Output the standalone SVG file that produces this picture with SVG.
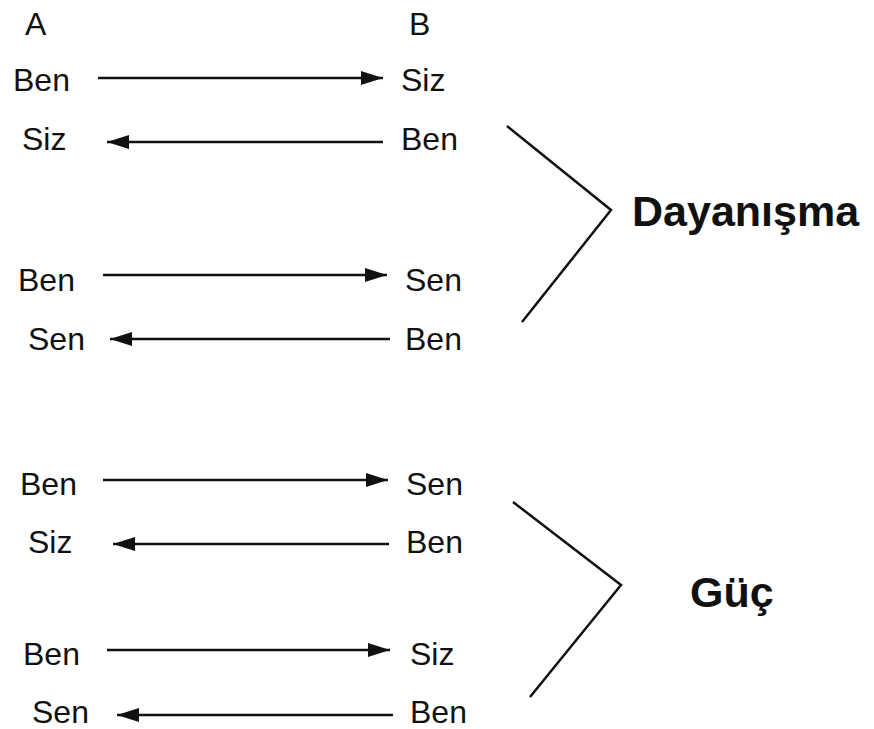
<svg xmlns="http://www.w3.org/2000/svg" width="874" height="729" viewBox="0 0 874 729">
<style>
.t{font-family:"Liberation Sans",Arial,sans-serif;font-size:32px;fill:#111}
.b{font-family:"Liberation Sans",Arial,sans-serif;font-size:43px;font-weight:bold;fill:#111}
.c{stroke:#111;stroke-width:2.5;fill:none}
</style>
<defs>
<marker id="ah" markerUnits="userSpaceOnUse" markerWidth="22" markerHeight="14" refX="22" refY="7" orient="auto">
<path d="M0,0 L22,7 L0,14 Z" fill="#111"/>
</marker>
</defs>
<rect width="874" height="729" fill="#fff"/>
<g id="headers">
<text class="t" x="25" y="35">A</text>
<text class="t" x="409" y="35">B</text>
</g>
<g id="labels">
<text class="t" x="13" y="91">Ben</text>
<text class="t" x="401" y="91">Siz</text>
<text class="t" x="22" y="150">Siz</text>
<text class="t" x="401" y="150">Ben</text>
<text class="t" x="18" y="291">Ben</text>
<text class="t" x="405" y="291">Sen</text>
<text class="t" x="28" y="350">Sen</text>
<text class="t" x="405" y="350">Ben</text>
<text class="t" x="20" y="495">Ben</text>
<text class="t" x="406" y="495">Sen</text>
<text class="t" x="28" y="553">Siz</text>
<text class="t" x="406" y="553">Ben</text>
<text class="t" x="23" y="665">Ben</text>
<text class="t" x="410" y="665">Siz</text>
<text class="t" x="32" y="723">Sen</text>
<text class="t" x="410" y="723">Ben</text>
</g>
<g id="group-dayanisma">
<polyline class="c" points="507,126 611,210 522,322"/>
<text class="b" x="632" y="226">Dayanışma</text>
</g>
<g id="group-guc">
<polyline class="c" points="513,502 621,585 530,697"/>
<text class="b" x="690" y="607">Güç</text>
</g>
<g id="connectors" class="c">
<line x1="98" y1="78" x2="383" y2="78" marker-end="url(#ah)"/>
<line x1="383" y1="142" x2="107" y2="142" marker-end="url(#ah)"/>
<line x1="103" y1="275" x2="387" y2="275" marker-end="url(#ah)"/>
<line x1="390" y1="339" x2="110" y2="339" marker-end="url(#ah)"/>
<line x1="103" y1="480" x2="388" y2="480" marker-end="url(#ah)"/>
<line x1="389" y1="544" x2="113" y2="544" marker-end="url(#ah)"/>
<line x1="107" y1="650" x2="390" y2="650" marker-end="url(#ah)"/>
<line x1="393" y1="715" x2="117" y2="715" marker-end="url(#ah)"/>
</g>
</svg>
